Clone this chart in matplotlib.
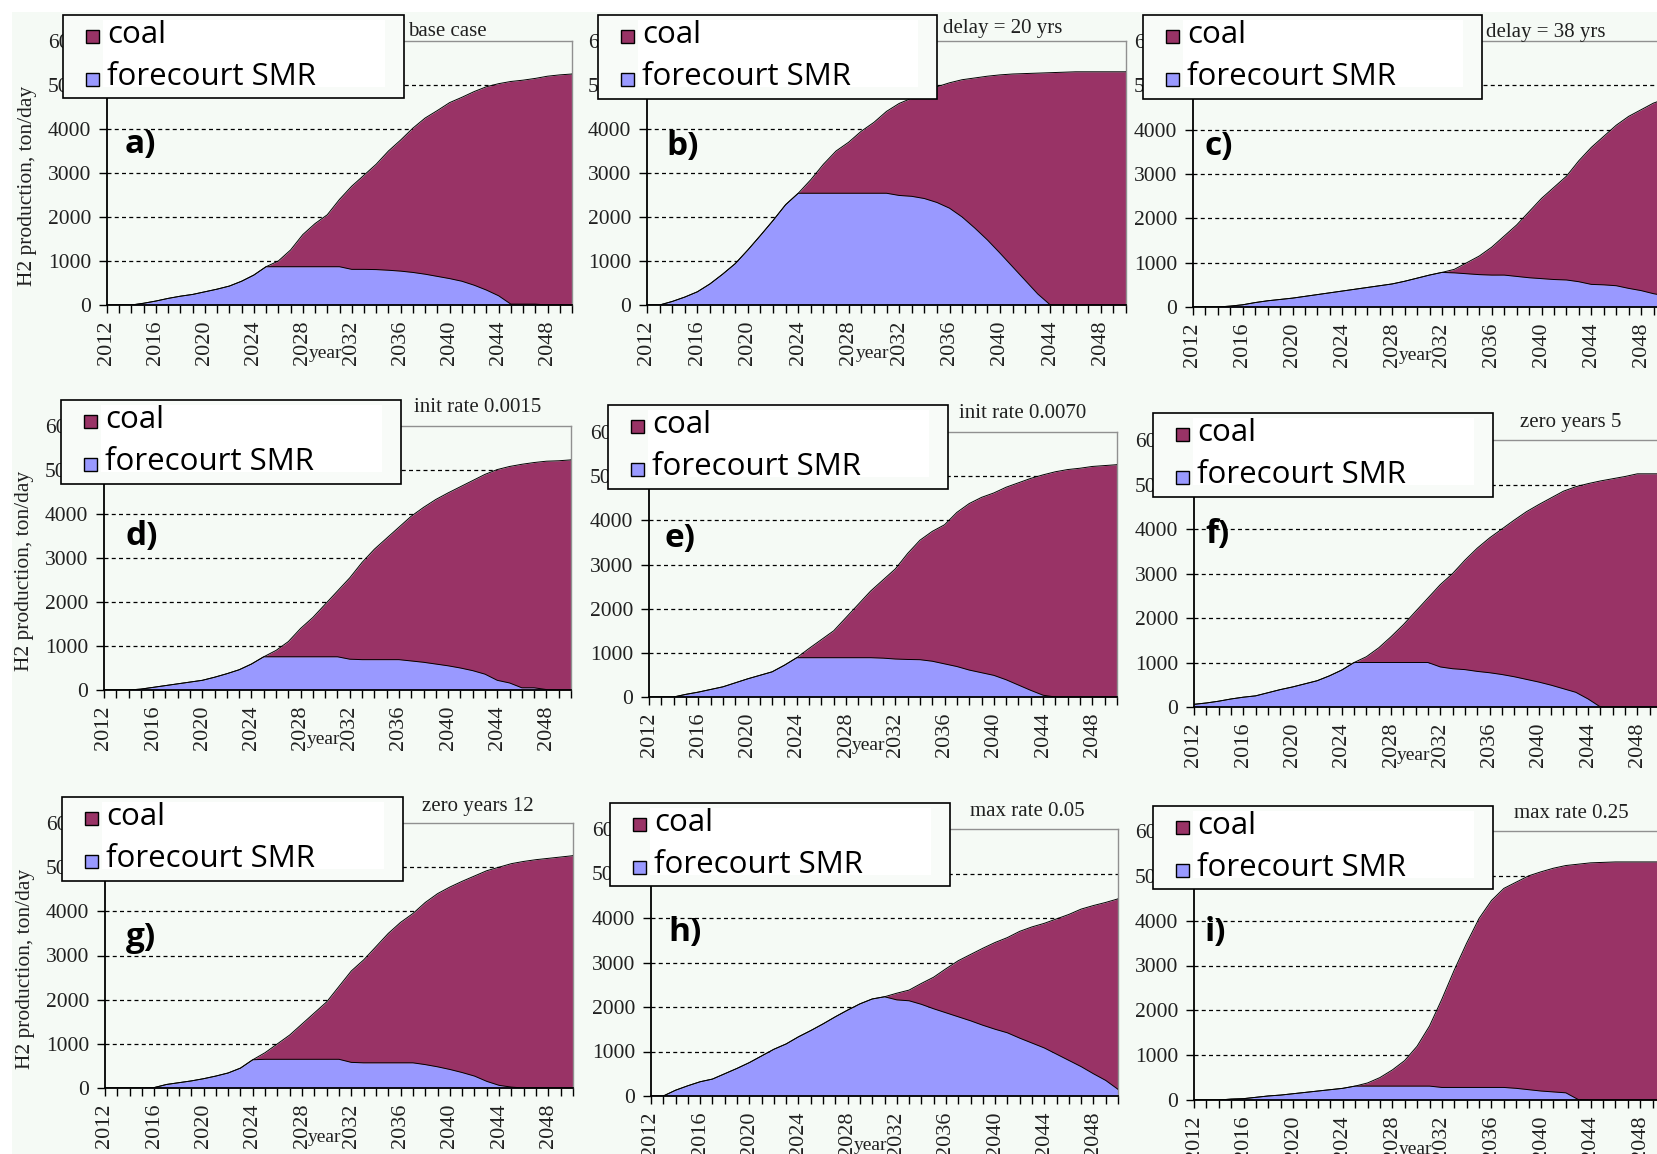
import matplotlib.pyplot as plt
from matplotlib.patches import Rectangle

W, H = 1658, 1154
years = list(range(2012, 2051))

coal_color = '#993366'
smr_color = '#9999ff'
bg = '#f5faf5'

# values, ton/day, one per year 2012..2050
smr_a = [0, 0, 0, 40, 90, 150, 200, 240, 300, 360, 430, 540, 680, 870,
         870, 870, 870, 870, 870, 870,
         810, 810, 805, 790, 770, 740, 700, 650, 600, 540, 450, 340, 210, 20, 20, 20, 0, 0, 0]
total_a = [0, 0, 0, 40, 90, 150, 200, 240, 300, 360, 430, 540, 680, 870,
           1000, 1250, 1600, 1850, 2050, 2400, 2700, 2950, 3200, 3500, 3750, 4020, 4250,
           4420, 4600, 4720, 4850, 4960, 5030, 5080, 5110, 5150, 5200, 5230, 5250]

smr_b = [0, 0, 80, 180, 300, 480, 700, 940, 1250, 1580, 1920, 2280, 2540,
         2540, 2540, 2540, 2540, 2540, 2540, 2540,
         2490, 2470, 2420, 2330, 2200, 2000, 1750, 1480, 1180, 870, 560, 250, 0, 0, 0, 0, 0, 0, 0]
total_b = [0, 0, 80, 180, 300, 480, 700, 940, 1250, 1580, 1920, 2280, 2540,
           2850, 3200, 3500, 3700, 3950, 4150, 4400, 4580, 4700, 4850, 4960, 5050, 5120,
           5160, 5200, 5230, 5250, 5260, 5270, 5280, 5290, 5300, 5300, 5300, 5300, 5300]

smr_c = [0, 0, 0, 20, 50, 100, 140, 170, 200, 240, 280, 320, 360, 400, 440, 480, 520,
         580, 650, 720, 780, 770, 750, 730, 720, 720, 690, 660, 640, 620, 610, 570, 510,
         500, 480, 420, 370, 300, 250]
total_c = [0, 0, 0, 20, 50, 100, 140, 170, 200, 240, 280, 320, 360, 400, 440, 480, 520,
           580, 650, 720, 780, 850, 1000, 1150, 1350, 1600, 1850, 2150, 2450, 2700, 2950,
           3300, 3600, 3850, 4100, 4300, 4450, 4600, 4700]

smr_d = [0, 0, 0, 20, 60, 100, 140, 180, 220, 290, 370, 460, 590, 755,
         755, 755, 755, 755, 755, 755,
         700, 690, 690, 690, 690, 660, 630, 590, 550, 500, 440, 360, 220, 160, 50, 50, 10, 0, 0]
total_d = [0, 0, 0, 20, 60, 100, 140, 180, 220, 290, 370, 460, 590, 755,
           900, 1100, 1400, 1650, 1950, 2250, 2550, 2900, 3200, 3450, 3700, 3950, 4150,
           4330, 4480, 4620, 4760, 4900, 5010, 5080, 5130, 5170, 5200, 5210, 5230]

smr_e = [0, 0, 0, 60, 110, 170, 230, 320, 410, 490, 570, 720, 890,
         890, 890, 890, 890, 890, 890, 880,
         860, 850, 845, 810, 750, 690, 610, 550, 490, 390, 270, 150, 40, 0, 0, 0, 0, 0, 0]
total_e = [0, 0, 0, 60, 110, 170, 230, 320, 410, 490, 570, 720, 890,
           1100, 1300, 1500, 1800, 2100, 2400, 2650, 2900, 3250, 3550, 3750, 3900, 4180,
           4380, 4520, 4620, 4750, 4850, 4950, 5030, 5100, 5150, 5180, 5220, 5240, 5260]

smr_f = [60, 90, 130, 180, 220, 250, 320, 390, 450, 520, 590, 700, 830, 1000,
         1000, 1000, 1000, 1000, 1000, 1000,
         900, 860, 840, 800, 770, 730, 680, 620, 560, 490, 410, 330, 180, 0, 0, 0, 0, 0, 0]
total_f = [60, 90, 130, 180, 220, 250, 320, 390, 450, 520, 590, 700, 830, 1000,
           1130, 1330, 1580, 1850, 2150, 2450, 2750, 3000, 3300, 3570, 3800, 4000, 4200,
           4390, 4550, 4700, 4850, 4950, 5020, 5080, 5130, 5180, 5240, 5240, 5240]

smr_g = [0, 0, 0, 0, 10, 80, 120, 160, 210, 270, 340, 450, 640,
         650, 650, 650, 650, 650, 650, 650,
         580, 570, 570, 570, 570, 570, 530, 480, 420, 350, 270, 150, 60, 20, 0, 0, 0, 0, 0]
total_g = [0, 0, 0, 0, 10, 80, 120, 160, 210, 270, 340, 450, 640,
           800, 1000, 1200, 1450, 1700, 1950, 2300, 2650, 2900, 3200, 3500, 3750, 3950,
           4200, 4400, 4550, 4680, 4800, 4920, 5000, 5080, 5130, 5170, 5200, 5230, 5260]

smr_h = [0, 0, 130, 230, 320, 380, 500, 620, 750, 900, 1050, 1170, 1330, 1470, 1620,
         1780, 1930, 2070, 2180, 2230, 2160, 2140, 2060, 1960, 1870, 1780, 1690, 1590,
         1500, 1420, 1300, 1190, 1080, 940, 800, 660, 500, 350, 150]
total_h = [0, 0, 130, 230, 320, 380, 500, 620, 750, 900, 1050, 1170, 1330, 1470, 1620,
           1780, 1930, 2070, 2180, 2230, 2310, 2380, 2530, 2670, 2860, 3040, 3180, 3320,
           3450, 3560, 3700, 3800, 3880, 3980, 4080, 4200, 4280, 4350, 4430]

smr_i = [0, 0, 0, 20, 30, 60, 90, 110, 140, 170, 200, 230, 260, 310,
         310, 310, 310, 310, 310, 310,
         280, 280, 280, 280, 280, 280, 260, 230, 200, 180, 160, 10, 0, 0, 0, 0, 0, 0, 0]
total_i = [0, 0, 0, 20, 30, 60, 90, 110, 140, 170, 200, 230, 260, 310,
           380, 500, 670, 880, 1200, 1650, 2250, 2900, 3500, 4050, 4450, 4720, 4860,
           5000, 5090, 5170, 5230, 5260, 5290, 5300, 5310, 5310, 5310, 5310, 5310]

titles = ['base case', 'delay = 20 yrs', 'delay = 38 yrs',
          'init rate 0.0015', 'init rate 0.0070', 'zero years 5',
          'zero years 12', 'max rate 0.05', 'max rate 0.25']
letters = ['a)', 'b)', 'c)', 'd)', 'e)', 'f)', 'g)', 'h)', 'i)']
smr_all = [smr_a, smr_b, smr_c, smr_d, smr_e, smr_f, smr_g, smr_h, smr_i]
total_all = [total_a, total_b, total_c, total_d, total_e, total_f, total_g, total_h, total_i]

# layout in pixels: plot left, right, top (6000), bottom (0)
plot_px = [(107, 572, 41, 305), (647, 1126, 41, 305), (1193, 1666, 41, 307),
           (104, 571, 426, 690), (649, 1117, 432, 697), (1194, 1662, 440, 707),
           (105, 573, 823, 1088), (651, 1118, 829, 1096), (1194, 1665, 831, 1100)]
legend_px = [(63, 404, 15, 98), (598, 937, 15, 99), (1143, 1482, 15, 99),
             (61, 401, 400, 484), (608, 948, 405, 489), (1153, 1493, 413, 497),
             (62, 403, 797, 881), (610, 950, 803, 886), (1153, 1493, 806, 889)]
title_px = [(447, 31), (1003, 29), (1546, 32), (478, 408), (1023, 413), (1571, 422),
            (478, 806), (1027, 811), (1571, 813)]
letter_px = [(125, 145), (666, 147), (1205, 146), (126, 537), (665, 538), (1205, 534),
             (126, 938), (668, 933), (1205, 933)]

plt.rcParams['font.family'] = ['Liberation Serif', 'DejaVu Serif']

fig = plt.figure(figsize=(W / 100, H / 100), dpi=100, facecolor=bg)
# white margins at the top and left, kept under everything else
fig.patches.append(Rectangle((0, 1 - 12 / H), 1, 12 / H, transform=fig.transFigure,
                             facecolor='white', lw=0, zorder=-5))
fig.patches.append(Rectangle((0, 0), 12 / W, 1, transform=fig.transFigure,
                             facecolor='white', lw=0, zorder=-5))

for k in range(9):
    l, r, t, z = plot_px[k]
    ax = fig.add_axes([l / W, 1 - z / H, (r - l) / W, (z - t) / H])
    ax.set_facecolor('none')
    smr = smr_all[k]
    total = total_all[k]

    for yv in range(1000, 6000, 1000):
        ax.axhline(yv, color='black', lw=0.9, ls=(0, (3.2, 2.6)), zorder=1)
    ax.fill_between(years, 0, smr, color=smr_color, lw=0, zorder=2)
    ax.fill_between(years, smr, total, color=coal_color, lw=0, zorder=2)
    ax.plot(years, smr, color='black', lw=0.7, zorder=3)
    ax.plot(years, total, color='black', lw=0.7, zorder=3)

    ax.set_xlim(2012, 2050)
    ax.set_ylim(0, 6000)
    for s in ['left', 'bottom']:
        ax.spines[s].set_color('black')
        ax.spines[s].set_linewidth(1.3)
    for s in ['top', 'right']:
        ax.spines[s].set_color('#909090')
        ax.spines[s].set_linewidth(1.0)
    ax.spines['left'].set_zorder(4)
    ax.spines['bottom'].set_zorder(4)

    ax.set_xticks(years)
    ax.set_xticklabels([str(y) if (y - 2012) % 4 == 0 else '' for y in years],
                       rotation=90, color='#202020')
    ax.set_yticks(range(0, 7000, 1000))
    ax.set_yticklabels([str(v) for v in range(0, 7000, 1000)], color='#202020')
    ax.tick_params(direction='out', length=5.5, width=1, labelsize=15.5, pad=6)
    ax.tick_params(axis='x', labelsize=16)

    ax.text(0.47, -49 / (z - t), 'year', transform=ax.transAxes, ha='center',
            va='center', fontsize=14, color='#202020')
    if k % 3 == 0:
        ax.set_ylabel('H2 production, ton/day', fontsize=15.5, color='#202020')
        ax.yaxis.set_label_coords(-70 / (r - l), 0.45)

# overlay for legends, titles and panel letters
ov = fig.add_axes([0, 0, 1, 1], zorder=10)
ov.set_xlim(0, W)
ov.set_ylim(H, 0)
ov.axis('off')

for k in range(9):
    x0, x1, y0, y1 = legend_px[k]
    ov.add_patch(Rectangle((x0, y0), x1 - x0, y1 - y0, facecolor='#f8fbf8',
                           edgecolor='black', lw=1.2))
    ov.add_patch(Rectangle((x0 + 40, y0 + 5), x1 - x0 - 59, 67, facecolor='white', lw=0))
    ov.add_patch(Rectangle((x0 + 23, y0 + 15), 13, 13, facecolor=coal_color,
                           edgecolor='black', lw=1))
    ov.add_patch(Rectangle((x0 + 23, y0 + 58), 13, 13, facecolor=smr_color,
                           edgecolor='black', lw=1))
    ov.text(x0 + 44, y0 + 28, 'coal', fontsize=22.5, family='Open Sans', va='baseline')
    ov.text(x0 + 44, y0 + 70, 'forecourt SMR', fontsize=22.5, family='Open Sans',
            va='baseline')

    tx, ty = title_px[k]
    ov.text(tx, ty, titles[k], ha='center', va='center', fontsize=15, color='#202020')

    lx, ly = letter_px[k]
    ov.text(lx, ly, letters[k], ha='left', va='center', fontsize=24,
            family='Open Sans', weight='bold')

fig.savefig('out.png', dpi=100, facecolor=bg)
